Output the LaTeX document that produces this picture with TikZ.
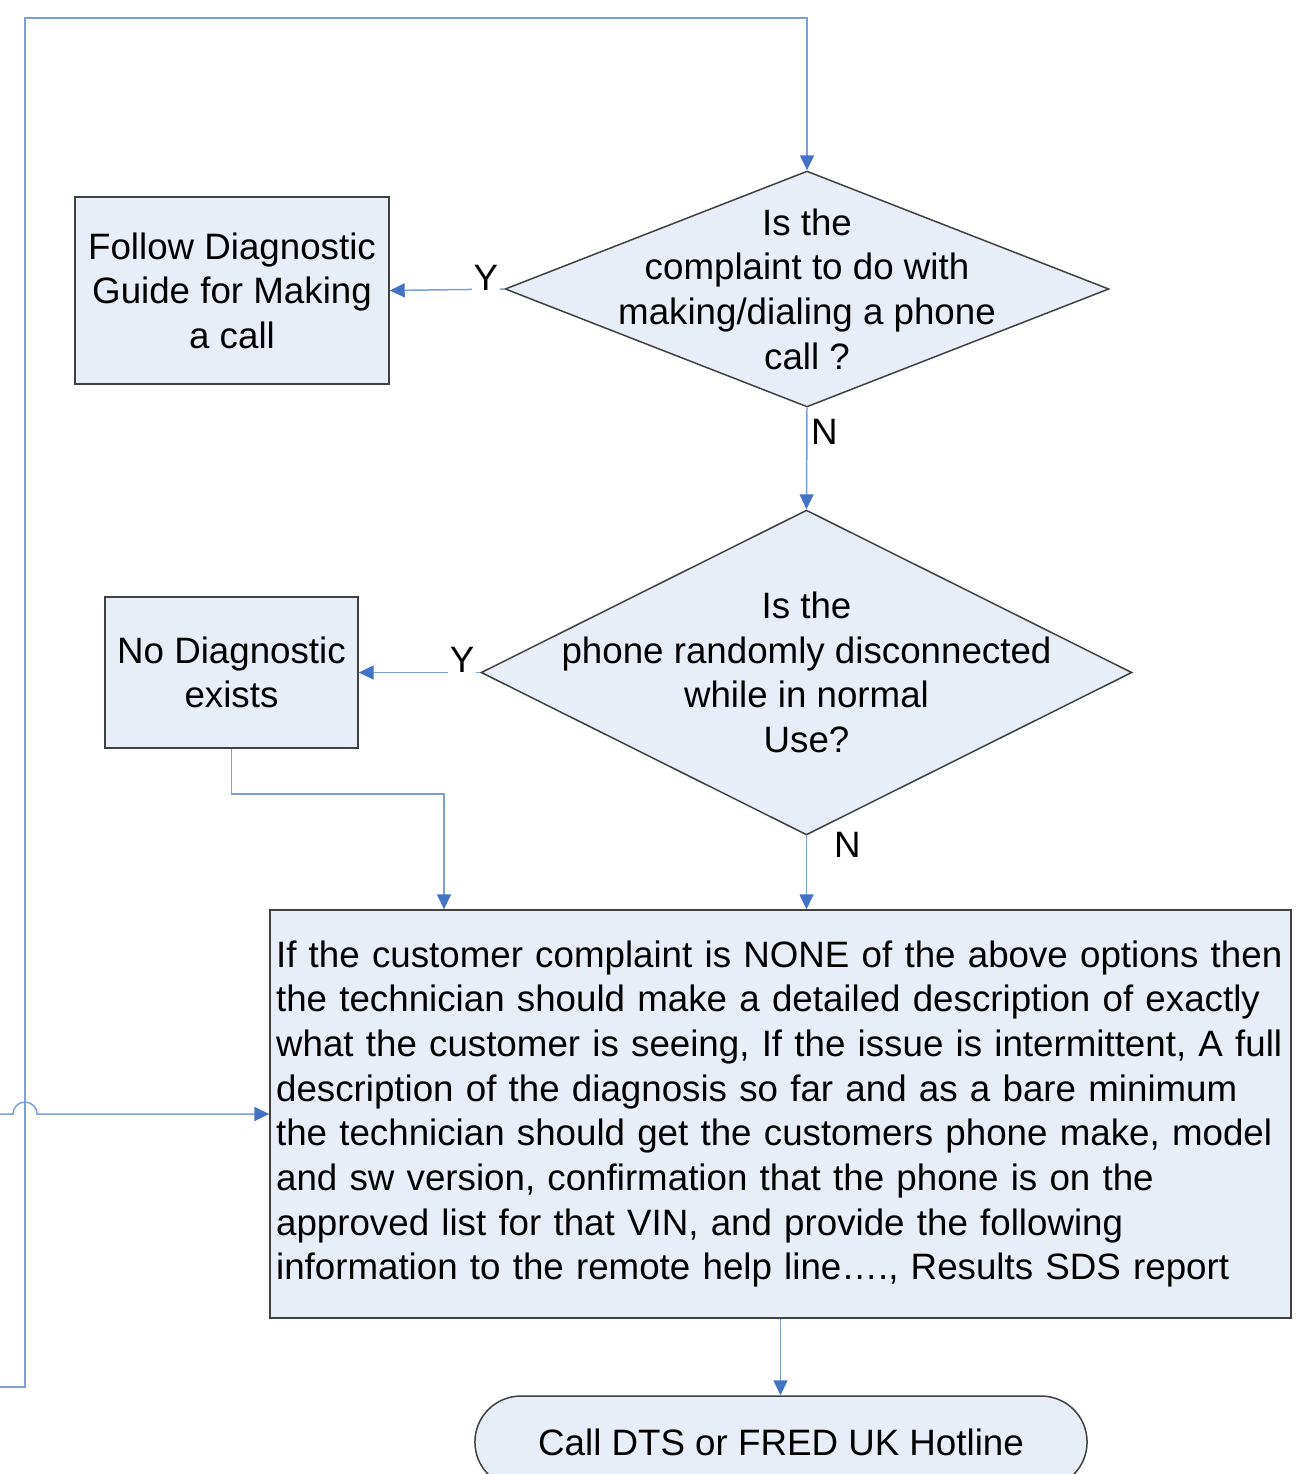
\documentclass[tikz,border=0pt]{standalone}
\usepackage{fontspec}
\setmainfont{Liberation Sans}
\usetikzlibrary{shapes.geometric}
\usetikzlibrary{shapes.misc}
\usetikzlibrary{arrows.meta}
\definecolor{boxfill}{HTML}{E8EEF8}
\definecolor{boxline}{HTML}{404040}
\definecolor{linkblue}{HTML}{7B9FD8}
\definecolor{tipblue}{HTML}{4472C4}
\tikzset{
  decision/.style={diamond, draw=boxline, fill=boxfill, line width=0.85pt, inner sep=0pt},
  process/.style={rectangle, draw=boxline, fill=boxfill, line width=0.85pt, align=center},
  terminal/.style={rounded rectangle, draw=boxline, fill=boxfill, line width=0.85pt},
  conn/.style={draw=linkblue, line width=0.85pt, -{Triangle[length=0.3cm,width=0.28cm,color=tipblue]}},
  yn/.style={inner sep=1pt, fill=white}
}

\begin{document}
\begin{tikzpicture}[x=0.02cm, y=-0.02cm, font=\fontsize{20.9}{25.4}\selectfont]
    \useasboundingbox (0,0) rectangle (1306,1474);
    \node[decision, minimum width=12.08cm, minimum height=4.72cm,
      label={[align=center]center:Is the\\complaint to do with\\making/dialing a phone\\call ?}]
      (d1) at (807,289) {};
    \node[process, minimum width=6.28cm, minimum height=3.74cm] (b1) at (232,290.5)
      {Follow Diagnostic\\Guide for Making\\a call};
    \node[decision, minimum width=13.02cm, minimum height=6.5cm,
      label={[align=center]center:Is the\\phone randomly disconnected\\while in normal\\Use?}]
      (d2) at (806.5,672.5) {};
    \node[process, minimum width=5.06cm, minimum height=3.02cm] (b2) at (231.5,672.5)
      {No Diagnostic\\exists};
    \node[process, align=left, text width=20.18cm, inner xsep=0.12cm, minimum height=8.16cm]
      (big) at (780.5,1114)
      {If the customer complaint is NONE of the above options then\\
       the technician should make a detailed description of exactly\\
       what the customer is seeing, If the issue is intermittent, A full\\
       description of the diagnosis so far and as a bare minimum\\
       the technician should get the customers phone make, model\\
       and sw version, confirmation that the phone is on the\\
       approved list for that VIN, and provide the following\\
       information to the remote help line\dots., Results SDS report};
    \node[terminal, minimum width=12.48cm, minimum height=1.84cm] (term) at (781,1442)
      {Call DTS or FRED UK Hotline};
    % links
    \draw[conn] (d1.west) -- node[yn, pos=0.16, yshift=0.22cm] {Y} (b1.east);
    \draw[conn] (d1.south) -- node[right, inner sep=2pt, pos=0.24] {N} (d2.north);
    \draw[conn] (d2.west) -- node[yn, pos=0.15, yshift=0.26cm] {Y} (b2.east);
    \draw[conn] (b2.south) |- (444,794) -- (444,794 |- big.north);
    \draw[conn] (d2.south) -- node[anchor=west, inner sep=1pt, pos=0.13, xshift=0.5cm] {N}
      (big.north -| d2.south);
    \draw[conn] (big.south) -- (big.south |- term.north);
    % lines from off the page
    \coordinate (loopin) at (0,1387);
    \coordinate (crossin) at (0,1114);
    \draw[conn] (loopin) -- (25,1387) -- (25,18) -| (d1.north);
    \draw[conn] (crossin) -- (13,1114) arc[start angle=180, end angle=0, radius=0.24cm]
      -- (big.west);
\end{tikzpicture}
\end{document}
